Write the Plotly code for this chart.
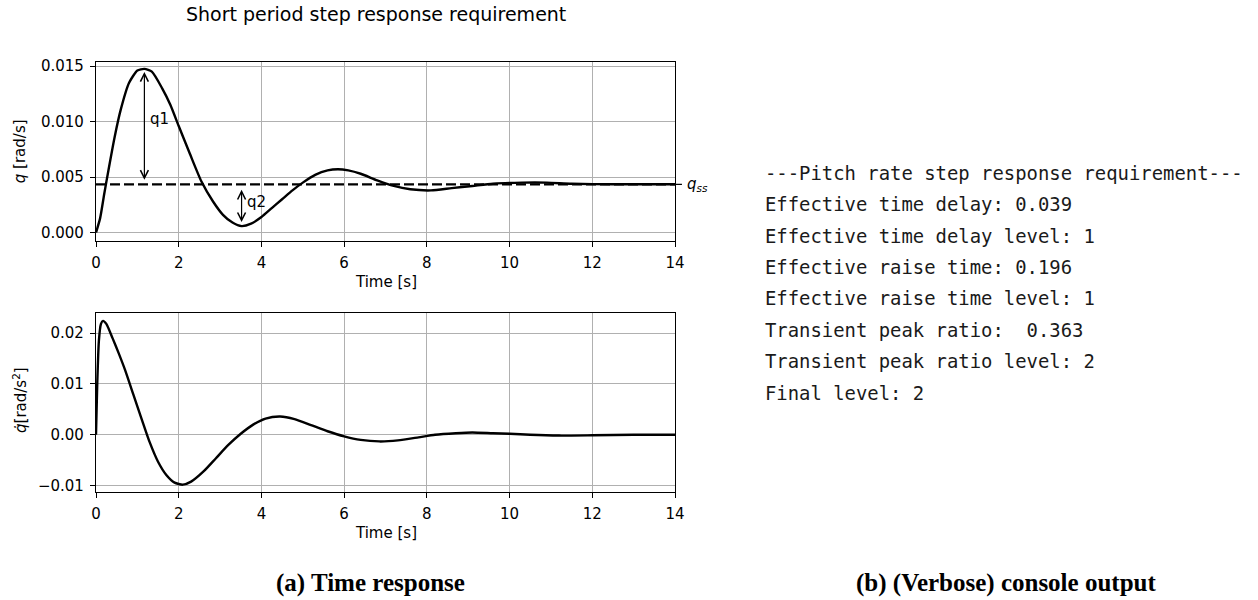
import plotly.graph_objects as go

# ---------------- data ----------------
t_q = [0, 0.1, 0.2, 0.3, 0.45, 0.6, 0.8, 1.0, 1.17, 1.35, 1.6, 1.8, 2.0, 2.27, 2.55,
       2.83, 3.07, 3.3, 3.52, 3.75, 4.0, 4.25, 4.5, 4.75, 5.0, 5.3, 5.6, 5.85, 6.1,
       6.4, 6.8, 7.2, 7.6, 8.1, 8.6, 9.1, 9.6, 10.3, 10.9, 11.5, 12.5, 14.0]
q_vals = [0.0, 0.0013, 0.0035, 0.0056, 0.0086, 0.0111, 0.0135, 0.0146, 0.01475, 0.0145,
          0.0130, 0.0115, 0.0096, 0.0071, 0.0046, 0.0028, 0.0016, 0.0009, 0.00058,
          0.0008, 0.0014, 0.0022, 0.0030, 0.0038, 0.0045, 0.0052, 0.0056, 0.0057,
          0.0056, 0.0053, 0.0047, 0.0042, 0.0039, 0.0038, 0.0040, 0.0042, 0.0044,
          0.0045, 0.0045, 0.0044, 0.00435, 0.00435]

t_qd = [0, 0.03, 0.07, 0.12, 0.17, 0.25, 0.4, 0.55, 0.7, 0.9, 1.1, 1.3, 1.5, 1.7, 1.9,
        2.1, 2.3, 2.6, 2.9, 3.2, 3.5, 3.8, 4.1, 4.45, 4.8, 5.2, 5.6, 6.0, 6.4, 6.85,
        7.3, 7.8, 8.2, 8.7, 9.1, 9.6, 10.0, 10.5, 11.2, 12.0, 13.0, 14.0]
qd_vals = [0.0, 0.010, 0.0185, 0.0218, 0.0224, 0.0218, 0.0190, 0.0160, 0.0128, 0.0080,
           0.0032, -0.0015, -0.0053, -0.0079, -0.0094, -0.0098, -0.0092, -0.0072,
           -0.0046, -0.0020, 0.0002, 0.0020, 0.0032, 0.0036, 0.0031, 0.0019, 0.0007,
           -0.0003, -0.0010, -0.0013, -0.0011, -0.0005, 0.0, 0.0003, 0.00045, 0.0003,
           0.0002, 0.0, -0.00015, -0.0001, 0.0, 0.0]

q_ss = 0.00435
q_peak = 0.01475
q_min = 0.00058
t_peak = 1.17
t_min = 3.52

x_ticks = [0, 2, 4, 6, 8, 10, 12, 14]
q_ticks = [0.000, 0.005, 0.010, 0.015]
qd_ticks = [-0.01, 0.00, 0.01, 0.02]

console_lines = [
    "---Pitch rate step response requirement---",
    "Effective time delay: 0.039",
    "Effective time delay level: 1",
    "Effective raise time: 0.196",
    "Effective raise time level: 1",
    "Transient peak ratio:\u00a0 0.363",
    "Transient peak ratio level: 2",
    "Final level: 2",
]

# ---------------- figure ----------------
W, H = 1258, 600
FONT = "DejaVu Sans"
TICK_FS = 15

fig = go.Figure()
fig.add_trace(go.Scatter(x=t_q, y=q_vals, mode="lines", line=dict(color="black", width=2.4, shape="spline", smoothing=0.6),
                         xaxis="x", yaxis="y", showlegend=False, hoverinfo="skip"))
fig.add_trace(go.Scatter(x=[0, 14], y=[q_ss, q_ss], mode="lines", line=dict(color="black", width=2.2, dash="10px,4px"),
                         xaxis="x", yaxis="y", showlegend=False, hoverinfo="skip"))
fig.add_trace(go.Scatter(x=t_qd, y=qd_vals, mode="lines", line=dict(color="black", width=2.4, shape="spline", smoothing=0.6),
                         xaxis="x2", yaxis="y2", showlegend=False, hoverinfo="skip"))

px_l, px_r = 96, 675
top_t, top_b = 61.7, 240.7
bot_t, bot_b = 312.7, 492.3

axis_common = dict(showline=True, mirror=True, linecolor="black", linewidth=1.2,
                   ticks="outside", ticklen=5, tickwidth=1.2, tickcolor="black",
                   showgrid=True, gridcolor="#b0b0b0", gridwidth=1.2, zeroline=False,
                   automargin=False,
                   tickfont=dict(family=FONT, size=TICK_FS, color="black"),
                   ticklabelstandoff=3)

fig.update_layout(
    width=W, height=H, margin=dict(l=0, r=0, t=0, b=0, autoexpand=False),
    paper_bgcolor="white", plot_bgcolor="white", showlegend=False,
    xaxis=dict(domain=[px_l / W, px_r / W], range=[0, 14], tickvals=x_ticks, anchor="y", **axis_common),
    yaxis=dict(domain=[1 - top_b / H, 1 - top_t / H], range=[-0.000735, 0.0154], tickvals=q_ticks,
               tickformat=".3f", anchor="x", **axis_common),
    xaxis2=dict(domain=[px_l / W, px_r / W], range=[0, 14], tickvals=x_ticks, anchor="y2", **axis_common),
    yaxis2=dict(domain=[1 - bot_b / H, 1 - bot_t / H], range=[-0.0113, 0.0240], tickvals=qd_ticks,
                tickformat=".2f", anchor="x2", **axis_common),
)

ann = []
# arrows q1, q2
ann.append(dict(x=t_peak, y=q_peak, ax=t_peak, ay=q_ss, xref="x", yref="y", axref="x", ayref="y",
                text="", showarrow=True, arrowside="end+start", arrowhead=5, startarrowhead=5,
                arrowsize=1.3, startarrowsize=1.3, arrowwidth=1.2, arrowcolor="black", standoff=3, startstandoff=3))
ann.append(dict(x=t_min, y=q_min, ax=t_min, ay=q_ss, xref="x", yref="y", axref="x", ayref="y",
                text="", showarrow=True, arrowside="end+start", arrowhead=5, startarrowhead=5,
                arrowsize=1.3, startarrowsize=1.3, arrowwidth=1.2, arrowcolor="black", standoff=4, startstandoff=4))
ann.append(dict(x=t_peak + 0.08, y=(q_peak + q_ss) / 2 + 0.0007, xref="x", yref="y", text="q1", showarrow=False,
                xanchor="left", yanchor="middle", font=dict(family=FONT, size=TICK_FS, color="black")))
ann.append(dict(x=t_min + 0.08, y=(q_ss + q_min) / 2 + 0.0003, xref="x", yref="y", text="q2", showarrow=False,
                xanchor="left", yanchor="middle", font=dict(family=FONT, size=TICK_FS, color="black")))
# q_ss label
ann.append(dict(x=1.018, y=q_ss, xref="x domain", yref="y", text="<i>q</i><sub><i>ss</i></sub>", showarrow=False,
                xanchor="left", yanchor="middle", font=dict(family=FONT, size=TICK_FS, color="black")))
# axis titles
ann.append(dict(x=(px_l + px_r) / 2 / W, y=1 - 282 / H, xref="paper", yref="paper", text="Time [s]", showarrow=False,
                xanchor="center", yanchor="middle", font=dict(family=FONT, size=TICK_FS, color="black")))
ann.append(dict(x=(px_l + px_r) / 2 / W, y=1 - 533 / H, xref="paper", yref="paper", text="Time [s]", showarrow=False,
                xanchor="center", yanchor="middle", font=dict(family=FONT, size=TICK_FS, color="black")))
ann.append(dict(x=20 / W, y=1 - (top_t + top_b) / 2 / H, xref="paper", yref="paper", text="<i>q</i> [rad/s]",
                textangle=-90, showarrow=False, xanchor="center", yanchor="middle",
                font=dict(family=FONT, size=TICK_FS, color="black")))
ann.append(dict(x=20 / W, y=1 - 400 / H, xref="paper", yref="paper", text="<i>q\u0307</i>[rad/s<sup>2</sup>]",
                textangle=-90, showarrow=False, xanchor="center", yanchor="middle",
                font=dict(family=FONT, size=TICK_FS, color="black")))
# title
ann.append(dict(x=376 / W, y=1 - 14 / H, xref="paper", yref="paper", text="Short period step response requirement",
                showarrow=False, xanchor="center", yanchor="middle", font=dict(family=FONT, size=19, color="black")))
# console output
for i, line in enumerate(console_lines):
    ann.append(dict(x=763 / W, y=1 - (172.7 + i * 31.4) / H, xref="paper", yref="paper", text=line,
                    showarrow=False, xanchor="left", yanchor="middle",
                    font=dict(family="DejaVu Sans Mono", size=18.9, color="#1a1a1a")))
# captions
ann.append(dict(x=370 / W, y=1 - 583 / H, xref="paper", yref="paper", text="<b>(a) Time response</b>",
                showarrow=False, xanchor="center", yanchor="middle",
                font=dict(family="Liberation Serif", size=25, color="black")))
ann.append(dict(x=1006 / W, y=1 - 583 / H, xref="paper", yref="paper", text="<b>(b) (Verbose) console output</b>",
                showarrow=False, xanchor="center", yanchor="middle",
                font=dict(family="Liberation Serif", size=25, color="black")))

fig.update_layout(annotations=ann)

# q_ss tick on the right frame
fig.add_shape(type="line", xref="x domain", yref="y", x0=1.0, x1=1.012, y0=q_ss, y1=q_ss,
              line=dict(color="black", width=1.2))

fig.write_html("out.html")
